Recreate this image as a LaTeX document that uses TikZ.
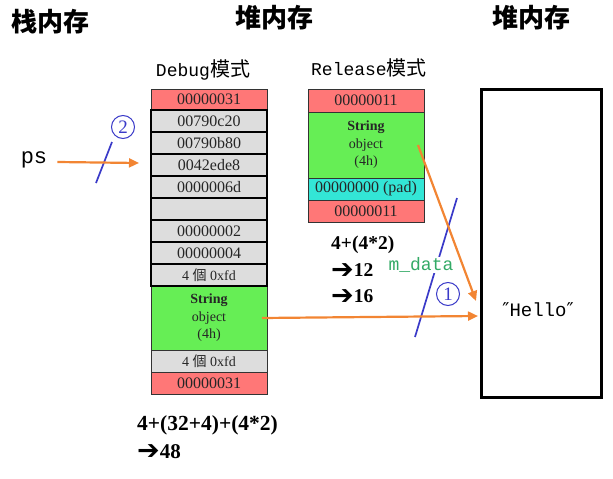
\documentclass[tikz,border=0pt]{standalone}
\usepackage{fontspec}
\setmainfont{Liberation Serif}
\setmonofont{Liberation Mono}
\newfontfamily\cjksc{Noto Sans CJK SC}
\newfontfamily\cjktc{Noto Sans CJK TC}
\newfontfamily\symfont{DejaVu Sans}
\usepackage{tikz}
\usetikzlibrary{arrows.meta, positioning}
\definecolor{cellpink}{HTML}{FF7777}
\definecolor{cellgreen}{HTML}{66EE55}
\definecolor{cellgrey}{HTML}{DDDDDD}
\definecolor{cellcyan}{HTML}{33E6D6}
\definecolor{ptrorange}{HTML}{F28533}
\definecolor{markblue}{HTML}{3A3AC8}
\definecolor{datagreen}{HTML}{33AA66}

\newcommand{\zhtc}[1]{{\cjktc #1}}
\newcommand{\zhmode}[1]{{\cjksc\fontsize{20}{22}\selectfont #1}}
\newcommand{\goesto}{{\symfont\bfseries\fontsize{27}{27}\selectfont\raisebox{-1.5pt}{➔}}}

\tikzset{
    cell/.style={draw=black!80, line width=0.8pt, minimum width=116pt, minimum height=22pt,
        inner sep=0pt, outer sep=0pt, text=black!85, font=\fontsize{16}{18}\selectfont},
    pinkcell/.style={cell, fill=cellpink},
    greycell/.style={cell, fill=cellgrey, draw=black, line width=1.3pt},
    objcell/.style={cell, fill=cellgreen, align=center, font=\fontsize{14}{17.5}\selectfont},
    padcell/.style={cell, fill=cellcyan},
    ptrarrow/.style={draw=ptrorange, line width=2.2pt, -{Triangle[length=10pt,width=9pt]}},
    slash/.style={draw=markblue, line width=1.7pt},
    circnum/.style={circle, draw=markblue, line width=1pt, text=markblue, inner sep=0pt,
        minimum size=23pt, font=\fontsize{19}{19}\selectfont},
    heading/.style={font=\cjksc\bfseries\fontsize{26}{28}\selectfont},
    sizecalc/.style={anchor=west, inner sep=0pt, font=\bfseries\fontsize{19.5}{21}\selectfont},
}

\begin{document}
\begin{tikzpicture}[x=1pt, y=-1pt]
    \useasboundingbox (0,0) rectangle (613,479);

    % titles
    \node[heading] (stack) at (51,22) {栈内存};
    \node[heading] (heapmid) at (274,18) {堆内存};
    \node[heading] (heapright) at (531,18) {堆内存};
    \node[font=\ttfamily\fontsize{18}{20}\selectfont] (dbgtitle) at (203,70) {Debug\zhmode{模式}};
    \node[font=\ttfamily\fontsize{18}{20}\selectfont] (reltitle) at (369,68) {Release\zhmode{模式}};

    % Debug block
    \node[pinkcell, minimum height=21pt] (d0) at (209,99.5) {00000031};
    \node[greycell, below=0pt of d0] (d1) {00790c20};
    \node[greycell, below=0pt of d1] (d2) {00790b80};
    \node[greycell, below=0pt of d2] (d3) {0042ede8};
    \node[greycell, below=0pt of d3] (d4) {0000006d};
    \node[greycell, below=0pt of d4] (d5) {};
    \node[greycell, below=0pt of d5] (d6) {00000002};
    \node[greycell, below=0pt of d6] (d7) {00000004};
    \node[greycell, below=0pt of d7, font=\fontsize{14}{16}\selectfont] (d8) {4 \zhtc{個} 0xfd};
    \node[objcell, minimum height=64pt, below=0pt of d8] (dobj) {\textbf{String}\\object\\(4h)};
    \node[cell, fill=cellgrey, below=0pt of dobj, font=\fontsize{14}{16}\selectfont] (d9) {4 \zhtc{個} 0xfd};
    \node[pinkcell, below=0pt of d9] (d10) {00000031};
    \draw[black, line width=2pt] (d1.north west) rectangle (d8.south east);

    % Release block
    \node[pinkcell, minimum height=23pt] (r0) at (366,100.5) {00000011};
    \node[objcell, minimum height=66pt, below=0pt of r0] (robj) {\textbf{String}\\object\\(4h)};
    \node[padcell, below=0pt of robj] (r1) {00000000 (pad)};
    \node[pinkcell, below=0pt of r1] (r2) {00000011};

    % sizes
    \node[sizecalc] (relsum) at (331,245) {4+(4*2)};
    \node[sizecalc] (rel12) at (331,271) {\goesto12};
    \node[sizecalc] (rel16) at (331,297) {\goesto16};
    \node[sizecalc, font=\bfseries\fontsize{21.5}{23}\selectfont] (dbgsum) at (137,425) {4+(32+4)+(4*2)};
    \node[sizecalc, font=\bfseries\fontsize{21}{23}\selectfont] (dbg48) at (137,452) {\goesto48};

    % heap with the string data
    \node[draw=black, line width=3pt, minimum width=120pt, minimum height=308pt, inner sep=0pt] (heap) at (541,243) {};
    \node[font=\ttfamily\fontsize{19}{20}\selectfont] (hello) at (538,310) {{\symfont ″}Hello{\symfont ″}};

    % pointers
    \node[font=\ttfamily\fontsize{22}{24}\selectfont, inner sep=0pt] (ps) at (34,160) {ps};
    \coordinate (psend) at (139,163);
    \coordinate (inA) at (478,316);
    \coordinate (inB) at (476,301);

    \draw[slash] (96,183) -- (112,142);
    \node[circnum] (two) at (123,127) {2};
    \draw[slash] (457,198) -- (415,337);
    \node[font=\ttfamily\fontsize{18}{20}\selectfont, text=datagreen, fill=white, inner sep=1pt] (mdata) at (421,265) {m\_data};
    \node[circnum] (one) at (448,294) {1};

    \draw[ptrarrow] ([xshift=10pt,yshift=-2pt]ps.east) -- (psend);
    \draw[ptrarrow] ([xshift=-5pt]dobj.east) -- (inA);
    \draw[ptrarrow] ([xshift=-6pt]robj.east) -- (inB);
\end{tikzpicture}
\end{document}
